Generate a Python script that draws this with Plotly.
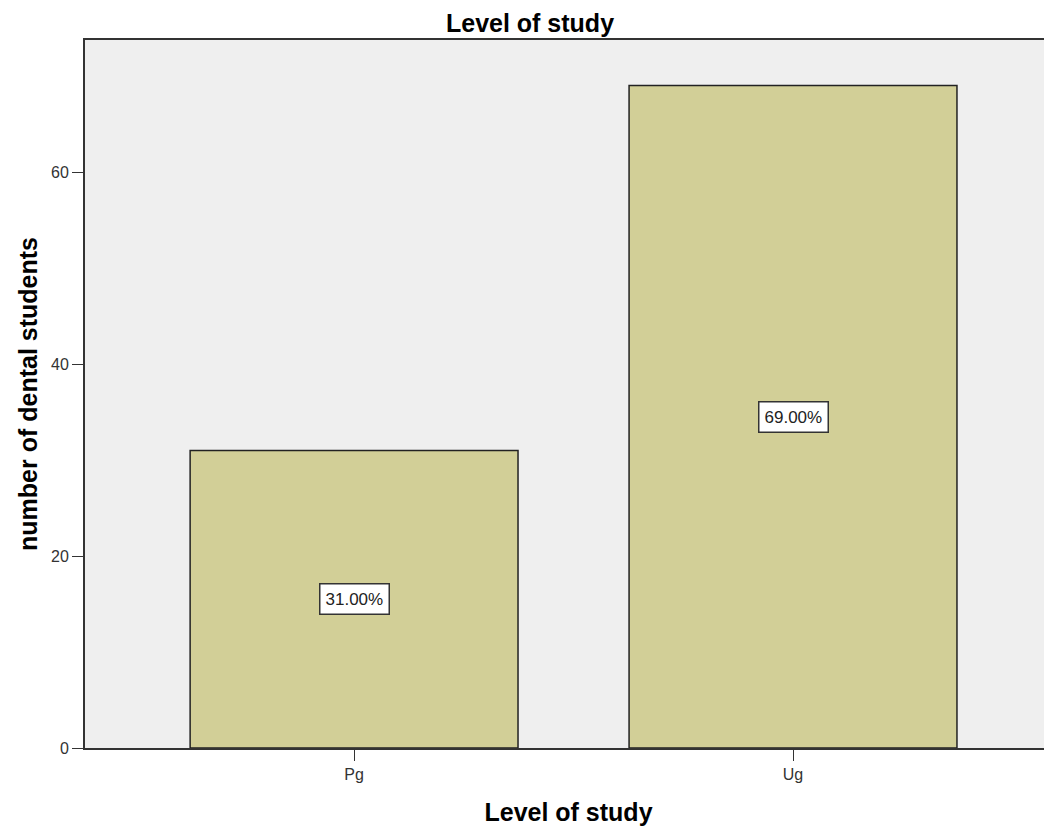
import plotly.graph_objects as go

categories = ["Pg", "Ug"]
counts = [31, 69]
y_ticks = [0, 20, 40, 60]

total = sum(counts)
pct_labels = [f"{c / total * 100:.2f}%" for c in counts]

bar_color = "#d2cf97"
bg_color = "#efefef"

W, H = 1044, 823  # page body adds an 8px margin

fig = go.Figure()
fig.add_trace(go.Bar(
    x=categories, y=counts, width=0.747,
    marker=dict(color=bar_color, line=dict(color="#222222", width=1.5)),
    hoverinfo="skip",
))

for cat, c, lab in zip(categories, counts, pct_labels):
    fig.add_annotation(
        x=cat, y=c / 2, xref="x", yref="y", text=lab, showarrow=False,
        font=dict(family="Arial", size=17, color="#222222"),
        bgcolor="white", bordercolor="#333333", borderwidth=1.5, borderpad=5,
    )

fig.update_layout(
    width=W, height=H,
    margin=dict(l=77, r=0, t=32, b=83),
    paper_bgcolor="white", plot_bgcolor=bg_color,
    showlegend=False,
    title=dict(text="<b>Level of study</b>", x=0.5, xanchor="center",
               y=1 - 15 / H, yanchor="middle",
               font=dict(family="Arial", size=25, color="black")),
    font=dict(family="Arial"),
)
fig.update_xaxes(
    range=[-0.613, 1.59], showgrid=False, zeroline=False,
    showline=True, linecolor="#333333", linewidth=2, mirror=True,
    ticks="outside", ticklen=11, tickcolor="#333333", tickwidth=1,
    tickfont=dict(family="Arial", size=16, color="#333333"),
    title=dict(text="<b>Level of study</b>", standoff=21,
               font=dict(family="Arial", size=25, color="black")),
)
fig.update_yaxes(
    range=[0, 73.75], showgrid=False, zeroline=False,
    showline=True, linecolor="#333333", linewidth=2, mirror=False,
    tickvals=y_ticks, ticks="outside", ticklen=11, tickcolor="#333333", tickwidth=1,
    tickfont=dict(family="Arial", size=16, color="#333333"),
    title=dict(text="<b>number of dental students</b>", standoff=6,
               font=dict(family="Arial", size=25, color="black")),
)

fig.write_html("out.html")
